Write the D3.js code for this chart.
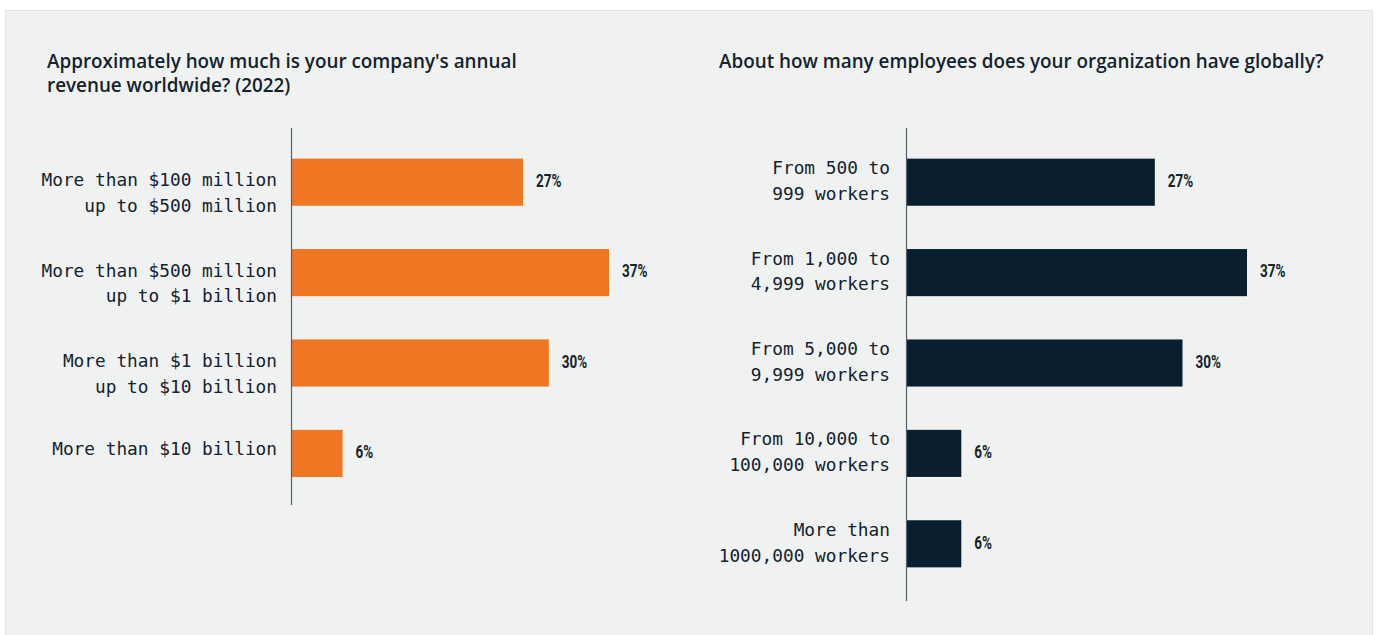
<!DOCTYPE html>
<html>
<head>
<meta charset="utf-8">
<script src="https://cdn.jsdelivr.net/npm/d3@7"></script>
<style>
  html, body { margin: 0; padding: 0; background: #ffffff; }
  svg { display: block; }
</style>
</head>
<body>
<svg id="chart" width="1376" height="635"></svg>
<script>
// Revenue question
const revenueTitle = ["Approximately how much is your company's annual", "revenue worldwide? (2022)"];
const revenueCategories = [
  ["More than $100 million", "up to $500 million"],
  ["More than $500 million", "up to $1 billion"],
  ["More than $1 billion", "up to $10 billion"],
  ["More than $10 billion"]
];
const revenueValues = [27, 37, 30, 6];

// Headcount question
const employeeTitle = ["About how many employees does your organization have globally?"];
const employeeCategories = [
  ["From 500 to", "999 workers"],
  ["From 1,000 to", "4,999 workers"],
  ["From 5,000 to", "9,999 workers"],
  ["From 10,000 to", "100,000 workers"],
  ["More than", "1000,000 workers"]
];
const employeeValues = [27, 37, 30, 6, 6];

const svg = d3.select("#chart");
const ink = "#13222f";
const labelFont = "'DejaVu Sans Mono', monospace";
const titleFont = "'Open Sans', Lato, sans-serif";
const valueFont = "Roboto, sans-serif";

// panel
svg.append("rect")
  .attr("x", 5.5).attr("y", 10.5)
  .attr("width", 1367).attr("height", 640)
  .attr("fill", "#f0f2f1")
  .attr("stroke", "#e2e4e3");

// size the headline font so the long one-line title spans its column
const probe = svg.append("text")
  .attr("font-family", titleFont).attr("font-weight", 600)
  .attr("font-size", 17).text(employeeTitle[0]);
const titleSize = 17 * 605 / probe.node().getComputedTextLength();
probe.remove();

function drawPanel(cfg) {
  const g = svg.append("g");

  // title
  g.append("text")
    .attr("x", cfg.titleX).attr("y", 68)
    .attr("font-family", titleFont).attr("font-weight", 600)
    .attr("font-size", titleSize).attr("fill", ink)
    .selectAll("tspan").data(cfg.title).join("tspan")
    .attr("x", cfg.titleX).attr("dy", (d, i) => i === 0 ? 0 : 24)
    .text(d => d);

  const n = cfg.values.length;
  const y = d3.scaleBand()
    .domain(d3.range(n))
    .range([136.5, 136.5 + 90.4 * n])
    .paddingInner(0.49).paddingOuter(0.245);

  const x = d3.scaleLinear()
    .domain([0, 37])
    .range([cfg.axisX, cfg.maxX]);

  // bars
  g.selectAll("rect.bar").data(cfg.values).join("rect")
    .attr("class", "bar")
    .attr("x", x(0))
    .attr("y", (d, i) => y(i))
    .attr("width", d => x(d) - x(0))
    .attr("height", y.bandwidth() + 1)
    .attr("fill", cfg.color);

  // axis line
  g.append("line")
    .attr("x1", cfg.axisX + 0.5).attr("x2", cfg.axisX + 0.5)
    .attr("y1", 128).attr("y2", cfg.axisBottom)
    .attr("stroke", "#56616b").attr("stroke-width", 1.2);

  // value labels, condensed bold
  g.selectAll("text.value").data(cfg.values).join("text")
    .attr("class", "value")
    .attr("transform", (d, i) =>
      `translate(${x(d) + 13},${y(i) + y.bandwidth() / 2 - 1}) scale(0.75,1)`)
    .attr("dominant-baseline", "central")
    .attr("font-family", valueFont).attr("font-weight", 700)
    .attr("font-size", 18).attr("fill", ink)
    .text(d => d + "%");

  // category labels
  const cat = g.selectAll("text.cat").data(cfg.categories).join("text")
    .attr("class", "cat")
    .attr("text-anchor", "end")
    .attr("font-family", labelFont).attr("font-size", 17.8)
    .attr("fill", ink);
  cat.each(function (lines, i) {
    const c = y(i) + y.bandwidth() / 2;
    const start = cfg.lineOffset(lines.length);
    d3.select(this).selectAll("tspan").data(lines).join("tspan")
      .attr("x", cfg.axisX - cfg.labelGap)
      .attr("y", (d, j) => c + start + j * 25.7)
      .attr("dominant-baseline", "central")
      .text(d => d);
  });
}

drawPanel({
  title: revenueTitle, titleX: 47,
  categories: revenueCategories, values: revenueValues,
  axisX: 291, maxX: 609, axisBottom: 505,
  color: "#ef7623", labelGap: 14,
  lineOffset: k => k === 1 ? -4 : -2
});

drawPanel({
  title: employeeTitle, titleX: 719,
  categories: employeeCategories, values: employeeValues,
  axisX: 906, maxX: 1247, axisBottom: 601,
  color: "#0a1f2e", labelGap: 16,
  lineOffset: k => k === 1 ? -1 : -14
});
</script>
</body>
</html>
